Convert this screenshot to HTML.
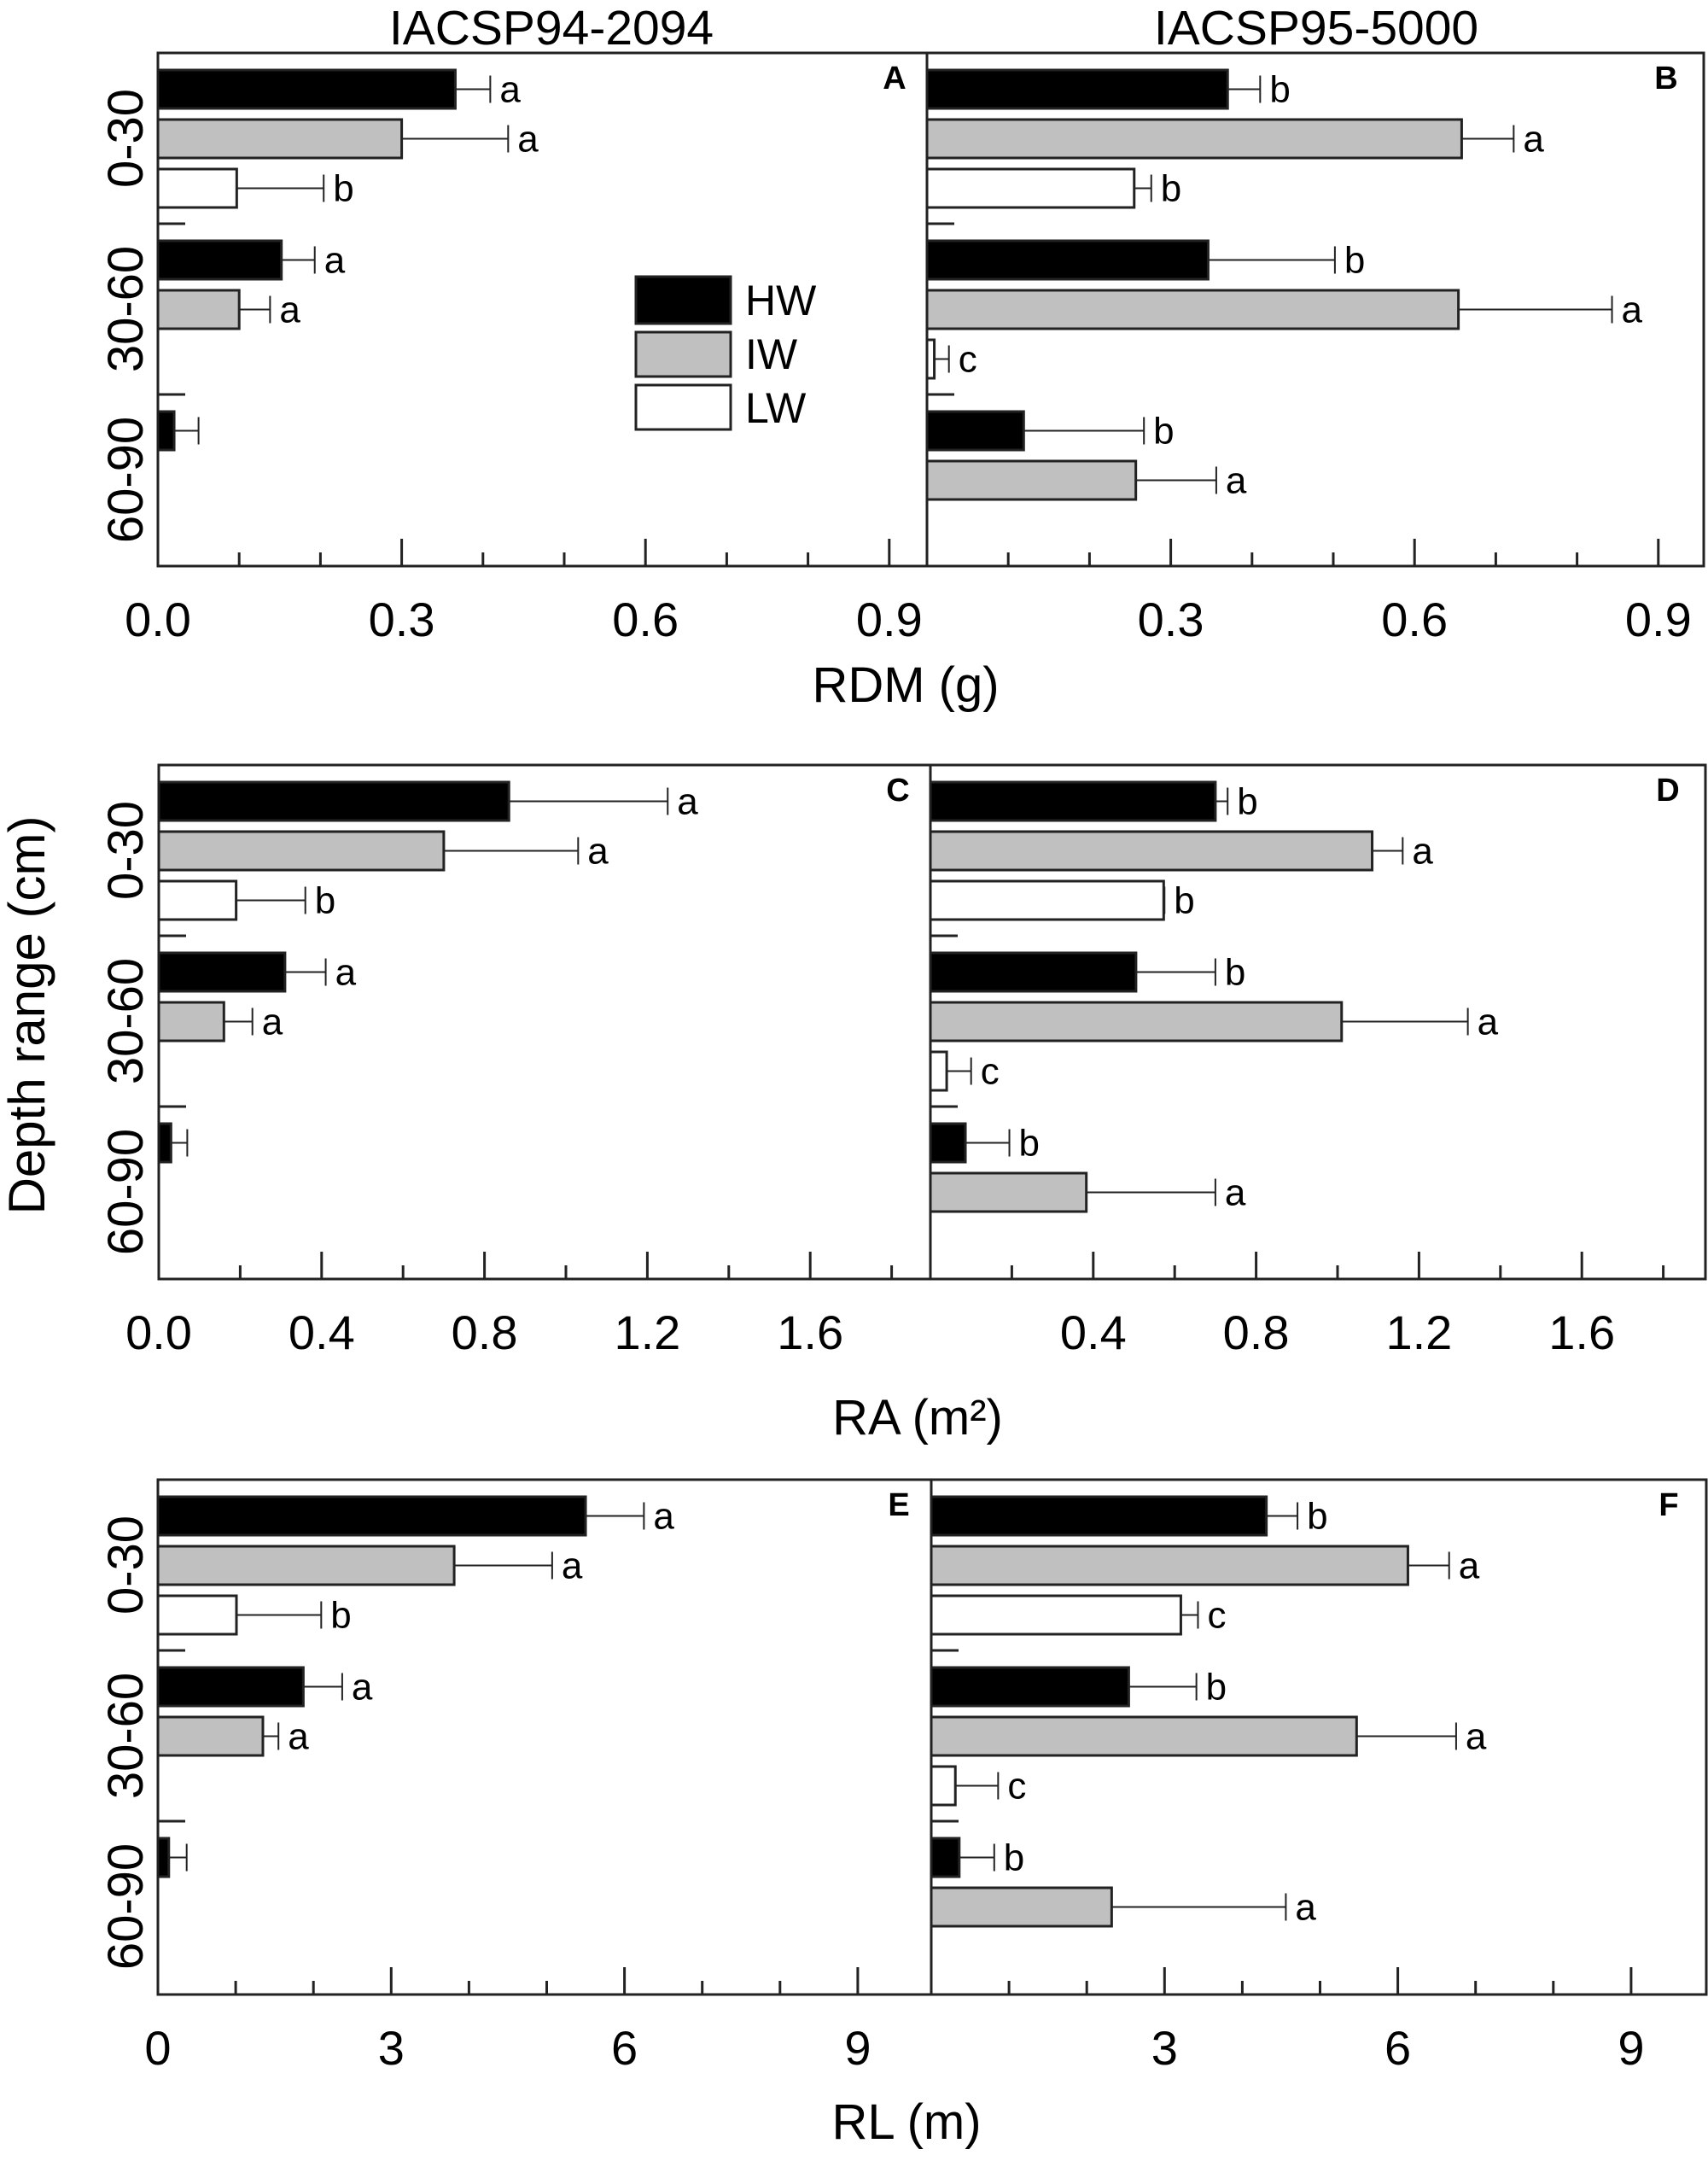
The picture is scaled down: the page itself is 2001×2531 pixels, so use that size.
<!DOCTYPE html>
<html><head><meta charset="utf-8">
<style>
html,body{margin:0;padding:0;background:#fff;}
svg{display:block;}
text{font-family:"Liberation Sans",Arial,sans-serif;fill:#000;}
</style></head>
<body>
<svg id="fig" width="2001" height="2531" viewBox="0 0 2001 2531" xmlns="http://www.w3.org/2000/svg">
<g id="static">
<text x="646" y="52" font-size="57" text-anchor="middle">IACSP94-2094</text>
<text x="1542" y="52" font-size="57" text-anchor="middle">IACSP95-5000</text>
<text transform="translate(52,1189) rotate(-90)" font-size="60" text-anchor="middle">Depth range (cm)</text>
<g>
<rect x="745" y="324" width="111" height="55" fill="#000" stroke="#222" stroke-width="3"/>
<rect x="745" y="389" width="111" height="52" fill="#c0c0c0" stroke="#222" stroke-width="3"/>
<rect x="745" y="451" width="111" height="52" fill="#fff" stroke="#222" stroke-width="3"/>
<text x="873" y="369" font-size="50">HW</text>
<text x="873" y="432" font-size="50">IW</text>
<text x="873" y="495" font-size="50">LW</text>
</g>
</g>
<g id="dyn"></g>
</svg>
<script>
// ---- data ----
const depthCategories = ["0-30","30-60","60-90"];
const treatments = ["HW","IW","LW"];
// Panel A: RDM (g) IACSP94-2094 (value, error-top); null = no bar
const panelA_values = [[0.366,0.30,0.097],[0.152,0.10,null],[0.02,null,null]];
const panelA_errors = [[0.409,0.431,0.204],[0.193,0.138,null],[0.05,null,null]];
const panelA_letters = [["a","a","b"],["a","a",""],["","",""]];
// Panel B: RDM (g) IACSP95-5000
const panelB_values = [[0.37,0.658,0.255],[0.346,0.654,0.009],[0.119,0.257,null]];
const panelB_errors = [[0.41,0.722,0.276],[0.502,0.843,0.027],[0.267,0.356,null]];
const panelB_letters = [["b","a","b"],["b","a","c"],["b","a",""]];
// Panel C: RA (m2) IACSP94-2094
const panelC_values = [[0.86,0.70,0.19],[0.31,0.16,null],[0.03,null,null]];
const panelC_errors = [[1.25,1.03,0.36],[0.41,0.23,null],[0.07,null,null]];
const panelC_letters = [["a","a","b"],["a","a",""],["","",""]];
// Panel D: RA (m2) IACSP95-5000
const panelD_values = [[0.70,1.085,0.573],[0.505,1.01,0.04],[0.086,0.383,null]];
const panelD_errors = [[0.73,1.16,0.575],[0.70,1.32,0.10],[0.194,0.70,null]];
const panelD_letters = [["b","a","b"],["b","a","c"],["b","a",""]];
// Panel E: RL (m) IACSP94-2094
const panelE_values = [[5.5,3.81,1.01],[1.87,1.35,null],[0.14,null,null]];
const panelE_errors = [[6.25,5.07,2.1],[2.37,1.55,null],[0.37,null,null]];
const panelE_letters = [["a","a","b"],["a","a",""],["","",""]];
// Panel F: RL (m) IACSP95-5000
const panelF_values = [[4.31,6.13,3.21],[2.54,5.47,0.31],[0.36,2.32,null]];
const panelF_errors = [[4.71,6.66,3.43],[3.41,6.75,0.86],[0.81,4.56,null]];
const panelF_letters = [["b","a","c"],["b","a","c"],["b","a",""]];
// tick labels
const tickLabelsA = ["0.0","0.3","0.6","0.9"], tickValsA = [0,0.3,0.6,0.9];
const tickLabelsB = ["0.3","0.6","0.9"], tickValsB = [0.3,0.6,0.9];
const tickLabelsC = ["0.0","0.4","0.8","1.2","1.6"], tickValsC = [0,0.4,0.8,1.2,1.6];
const tickLabelsD = ["0.4","0.8","1.2","1.6"], tickValsD = [0.4,0.8,1.2,1.6];
const tickLabelsE = ["0","3","6","9"], tickValsE = [0,3,6,9];
const tickLabelsF = ["3","6","9"], tickValsF = [3,6,9];

const NS = "http://www.w3.org/2000/svg";
const dyn = document.getElementById("dyn");
const fills = ["#000","#c0c0c0","#fff"];
function mk(tag, attrs, parent){
  const e = document.createElementNS(NS, tag);
  for (const k in attrs) e.setAttribute(k, attrs[k]);
  (parent||dyn).appendChild(e);
  return e;
}
function drawRow(row){
  const g = mk("g", {});
  
  
  const T=row.top, B=row.bottom, L=row.left, D=row.div, R=row.right;
  // frame
  const fr = mk("path", {d:`M${L} ${B} L${L} ${T} L${R} ${T} L${R} ${B} Z M${D} ${T} L${D} ${B}`, fill:"none", stroke:"#222", "stroke-width":3}, g);
  
  
  row.panels.forEach((p, pi) => {
    const x0 = pi===0 ? L : D;
    const xEnd = pi===0 ? D : R;
    const sx = v => x0 + v*row.scale;
    // axis ticks
    for (let k=1; ; k++){
      const v = k*row.minor;
      const x = sx(v);
      if (x >= xEnd-3) break;
      const major = Math.abs(v/row.major - Math.round(v/row.major)) < 1e-6;
      const t = mk("line", {x1:x, x2:x, y1:B, y2:B-(major?32:16), stroke:"#222", "stroke-width":3}, g);
      
      
    }
    p.tickVals.forEach((v, i) => {
      const t = mk("text", {x:sx(v), y:B+82, "font-size":56, "text-anchor":"middle"}, g);
      t.textContent = p.tickLabels[i];
      
      
    });
    // separator ticks
    [200,400].forEach(off => {
      const s = mk("line", {x1:x0, x2:x0+32, y1:T+off, y2:T+off, stroke:"#222", "stroke-width":3}, g);
      
      
    });
    // panel letter
    const pl = mk("text", {x:pi===0?D-38:R-44, y:T+42, "font-size":38, "font-weight":"bold", "text-anchor":"middle"}, g);
    pl.textContent = p.letter;
    
    
    // bars
    depthCategories.forEach((cat, gi) => {
      treatments.forEach((tr, ti) => {
        const v = p.values[gi][ti];
        if (v === null) return;
        const y = T + 20 + gi*200 + ti*58;
        const h = 45;
        const bar = mk("rect", {x:x0, y:y, width:Math.max(sx(v)-x0,1), height:h, fill:fills[ti], stroke:"#222", "stroke-width":3}, g);
        
        
        const e = p.errors[gi][ti];
        const cy = y + h/2;
        if (e !== null && e > v){
          const el = mk("path", {d:`M${sx(v)} ${cy} L${sx(e)} ${cy} M${sx(e)} ${cy-16} L${sx(e)} ${cy+16}`, stroke:"#222", "stroke-width":2, fill:"none"}, g);
          
          
        }
        const lt = p.letters[gi][ti];
        if (lt){
          const tx = mk("text", {x:sx(e!==null?e:v)+11, y:cy+15, "font-size":44}, g);
          tx.textContent = lt;
          
          
        }
      });
    });
  });
  // category labels
  depthCategories.forEach((cat, gi) => {
    const t = mk("text", {transform:`translate(167,${T+100+gi*200}) rotate(-90)`, "font-size":58, "text-anchor":"middle"}, g);
    t.textContent = cat;
    
    
  });
  const at = mk("text", {x:row.titleX, y:row.titleY, "font-size":58, "text-anchor":"middle"}, g);
  at.textContent = row.title;
  
  
}
drawRow({name:"rdm", top:62, bottom:663, left:185, div:1086, right:1996, scale:952, minor:0.1, major:0.3, title:"RDM (g)", titleX:1061, titleY:822,
  panels:[{letter:"A", values:panelA_values, errors:panelA_errors, letters:panelA_letters, tickLabels:tickLabelsA, tickVals:tickValsA},
          {letter:"B", values:panelB_values, errors:panelB_errors, letters:panelB_letters, tickLabels:tickLabelsB, tickVals:tickValsB}]});
drawRow({name:"ra", top:896, bottom:1498, left:186, div:1090, right:1998, scale:477, minor:0.2, major:0.4, title:"RA (m²)", titleX:1075, titleY:1680,
  panels:[{letter:"C", values:panelC_values, errors:panelC_errors, letters:panelC_letters, tickLabels:tickLabelsC, tickVals:tickValsC},
          {letter:"D", values:panelD_values, errors:panelD_errors, letters:panelD_letters, tickLabels:tickLabelsD, tickVals:tickValsD}]});
drawRow({name:"rl", top:1733, bottom:2336, left:185, div:1091, right:1999, scale:91.1, minor:1, major:3, title:"RL (m)", titleX:1062, titleY:2505,
  panels:[{letter:"E", values:panelE_values, errors:panelE_errors, letters:panelE_letters, tickLabels:tickLabelsE, tickVals:tickValsE},
          {letter:"F", values:panelF_values, errors:panelF_errors, letters:panelF_letters, tickLabels:tickLabelsF, tickVals:tickValsF}]});
</script>
</body></html>
